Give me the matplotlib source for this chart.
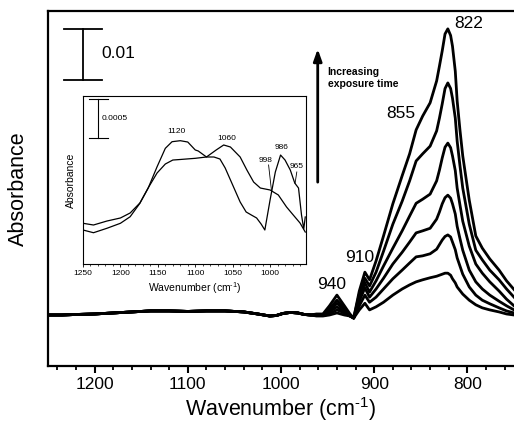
import matplotlib
matplotlib.use("Agg")
import matplotlib.pyplot as plt
from matplotlib.ticker import MultipleLocator

plt.rcParams['font.family'] = ['Liberation Sans', 'DejaVu Sans']
plt.rcParams['mathtext.default'] = 'regular'

# main spectra, absorbance in units of 1e-3
# flat part shared by all six spectra
base_wn = [1250, 1235, 1220, 1200, 1180, 1160, 1140, 1120, 1100, 1080, 1060,
           1040, 1025, 1012, 1005, 998, 990, 982, 975, 968]
base_mA = [0.2, 0.2, 0.3, 0.4, 0.6, 0.8, 1.0, 1.0, 0.9, 1.0, 1.0,
           0.8, 0.4, 0.0, 0.1, 0.5, 0.7, 0.6, 0.3, 0.2]

peak_wn = [962, 955, 948, 940, 932, 926, 922, 916, 910, 905, 898, 890, 880,
           870, 862, 855, 848, 840, 833, 830, 827, 824, 821, 818, 816, 813,
           811, 808, 805, 798, 791, 784, 776, 766, 758, 750]
spec_t0 = [0.0, 0.0, 0.2, 0.6, 0.2, 0.0, -0.4, 1.2, 2.5, 1.2, 1.8, 2.7, 4.1,
           5.3, 6.1, 6.7, 7.1, 7.5, 7.8, 8.0, 8.2, 8.4, 8.4, 8.0, 7.3, 6.5,
           5.7, 5.0, 4.3, 3.1, 2.2, 1.6, 1.2, 0.8, 0.4, 0.2]
spec_t1 = [0.1, 0.1, 0.4, 1.2, 0.6, 0.0, -0.4, 2.0, 4.1, 2.7, 3.7, 5.3, 7.3,
           9.0, 10.4, 11.6, 11.8, 12.2, 13.1, 14.0, 14.9, 15.6, 15.9, 15.5,
           14.5, 13.0, 11.4, 9.8, 8.2, 5.7, 4.1, 3.1, 2.4, 1.6, 1.0, 0.6]
spec_t2 = [0.2, 0.2, 0.8, 1.8, 0.8, 0.0, -0.4, 2.9, 5.5, 3.7, 5.3, 7.4, 10.2,
           12.5, 14.5, 16.3, 16.7, 17.2, 19.0, 20.4, 22.0, 23.2, 23.7, 23.1,
           22.0, 20.0, 17.6, 15.2, 12.9, 9.0, 6.7, 5.3, 4.1, 2.9, 2.0, 1.2]
spec_t3 = [0.2, 0.2, 1.0, 2.5, 1.2, 0.0, -0.4, 3.5, 6.5, 4.7, 6.9, 9.8, 13.3,
           16.7, 19.6, 22.1, 22.9, 23.9, 26.5, 28.6, 31.0, 33.1, 33.9, 33.0,
           31.4, 28.5, 25.1, 21.8, 18.6, 13.7, 10.2, 8.4, 6.7, 4.9, 3.3, 2.0]
spec_t4 = [0.3, 0.3, 1.4, 3.1, 1.6, 0.2, -0.4, 4.3, 7.4, 5.9, 8.6, 12.7, 18.0,
           22.5, 26.5, 30.4, 31.8, 33.3, 36.3, 38.8, 41.6, 44.6, 45.7, 44.6,
           42.7, 38.8, 34.3, 29.5, 25.1, 18.0, 12.9, 11.0, 9.0, 7.1, 5.3, 3.7]
spec_t5 = [0.4, 0.4, 2.0, 4.1, 2.0, 0.4, -0.4, 4.9, 8.6, 7.1, 10.8, 15.7, 22.0,
           27.5, 31.8, 36.5, 39.2, 41.8, 46.1, 49.0, 52.0, 55.3, 56.3, 55.0,
           52.9, 48.0, 42.2, 36.5, 31.4, 22.7, 15.7, 13.3, 11.2, 9.0, 6.9, 5.2]
spectra = [spec_t0, spec_t1, spec_t2, spec_t3, spec_t4, spec_t5]

# inset difference spectra, absorbance in units of 1e-4
insA_wn = [1250, 1236, 1218, 1200, 1187, 1174, 1163, 1151, 1140, 1131, 1120,
           1110, 1100, 1096, 1085, 1072, 1062, 1053, 1040, 1031, 1022, 1013,
           1000, 989, 978, 969, 960, 953]
insA = [4.36, 4.01, 4.58, 5.22, 6.06, 7.78, 9.71, 12.47, 14.83, 15.68, 15.81,
        15.64, 14.62, 14.49, 13.72, 14.62, 15.26, 15.0, 13.72, 12.05, 10.51,
        9.74, 9.49, 8.85, 7.31, 6.28, 5.26, 4.10]
insB_wn = [1250, 1236, 1218, 1200, 1187, 1174, 1163, 1151, 1140, 1130, 1120,
           1100, 1085, 1075, 1067, 1060, 1050, 1040, 1032, 1025, 1018, 1012,
           1007, 1000, 993, 986, 980, 973, 967, 962, 958, 955, 953]
insB = [5.22, 5.0, 5.51, 5.90, 6.54, 7.82, 9.74, 11.67, 12.82, 13.33, 13.40,
        13.55, 13.72, 13.72, 13.46, 12.31, 10.13, 7.95, 6.67, 6.28, 5.90, 5.13,
        4.36, 8.21, 11.79, 13.97, 13.33, 12.05, 10.38, 9.74, 6.28, 4.49, 6.03]

main_peaks = ["822", "855", "910", "940"]
main_peak_pos = [(799, 57.4), (871, 39.8), (915.7, 11.4), (946, 6.1)]
inset_peaks = ["1120", "1060", "998", "986", "965"]
inset_peak_pos = [(1125.7, 17.0), (1057.9, 16.1), (1006, 13.3), (984.4, 15.0), (964.6, 12.5)]

xlab = "Wavenumber (cm$^{\u20101}$)"

fig = plt.figure(figsize=(5.14, 4.25), dpi=100)
ax = fig.add_axes([48 / 514, 59 / 425, 466 / 514, 355 / 425])

for s in spectra:
    ax.plot(base_wn + peak_wn, base_mA + s, color='black', lw=2.0,
            solid_joinstyle='round')

ax.set_xlim(1250, 750)
ax.set_ylim(-9.8, 59.8)
ax.spines['right'].set_visible(False)
for sp in ['left', 'bottom', 'top']:
    ax.spines[sp].set_linewidth(1.6)
ax.xaxis.set_major_locator(MultipleLocator(100))
ax.xaxis.set_minor_locator(MultipleLocator(20))
ax.tick_params(axis='x', which='major', direction='out', length=5, width=1.5,
               labelsize=12.5, pad=3)
ax.tick_params(axis='x', which='minor', direction='out', length=3, width=1.3)
ax.set_yticks([])
ax.set_xlabel(xlab, fontsize=15.5, labelpad=2)
ax.set_ylabel("Absorbance", fontsize=15.5, labelpad=14)

for lab, (x, y) in zip(main_peaks, main_peak_pos):
    ax.text(x, y, lab, fontsize=12.5, ha='center', va='center')

# 0.01 scale bar
ax.plot([1212.5, 1212.5], [46.3, 56.3], color='black', lw=1.3)
ax.plot([1233, 1192], [56.3, 56.3], color='black', lw=1.3)
ax.plot([1233, 1192], [46.3, 46.3], color='black', lw=1.3)
ax.text(1193, 51.4, "0.01", fontsize=12.5, ha='left', va='center')

# arrow
ax.annotate("", xy=(960.6, 52.9), xytext=(960.6, 25.7),
            arrowprops=dict(arrowstyle='-|>,head_width=0.25,head_length=0.7',
                            color='black', lw=2))
ax.text(950, 46.6, "Increasing\nexposure time", fontsize=7.5, fontweight='bold',
        ha='left', va='center', linespacing=1.25)

# inset
ins = fig.add_axes([83 / 514, 161 / 425, 223 / 514, 168 / 425])
ins.plot(insA_wn, insA, color='black', lw=0.9)
ins.plot(insB_wn, insB, color='black', lw=0.9)
ins.set_xlim(1250, 952)
ins.set_ylim(0, 21.54)
for sp in ins.spines.values():
    sp.set_linewidth(0.8)
ins.xaxis.set_major_locator(MultipleLocator(50))
ins.xaxis.set_minor_locator(MultipleLocator(10))
ins.tick_params(axis='x', which='major', direction='out', length=2.5, width=0.6,
                labelsize=6, pad=2)
ins.tick_params(axis='x', which='minor', direction='out', length=1.5, width=0.5)
ins.set_yticks([])
ins.set_xlabel(xlab, fontsize=7.5, labelpad=2)
ins.set_ylabel("Absorbance", fontsize=7.5, labelpad=5)

for lab, (x, y) in zip(inset_peaks, inset_peak_pos):
    ins.text(x, y, lab, fontsize=6, ha='center', va='center')
ins.plot([1002, 998], [12.7, 9.3], color='black', lw=0.6)
ins.plot([964.3, 966.6], [11.8, 10.35], color='black', lw=0.6)

# 0.0005 scale bar
ins.plot([1230, 1230], [16.15, 21.1], color='black', lw=0.8)
ins.plot([1242, 1216.6], [21.1, 21.1], color='black', lw=0.8)
ins.plot([1242, 1216.6], [16.15, 16.15], color='black', lw=0.8)
ins.text(1224.6, 18.7, "0.0005", fontsize=6, ha='left', va='center')

fig.savefig("out.png", dpi=100)
